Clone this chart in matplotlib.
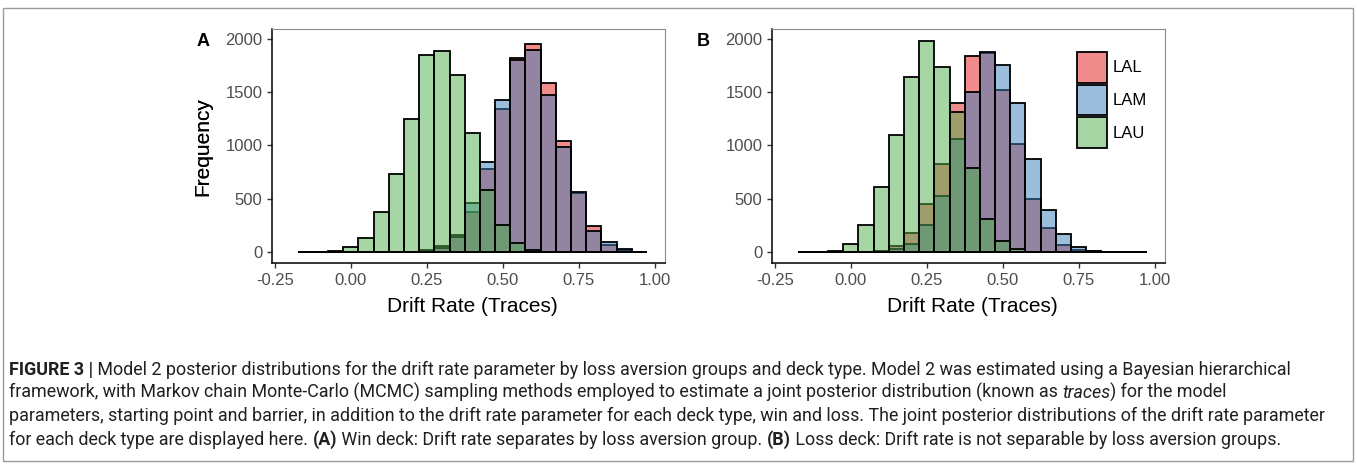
import matplotlib
matplotlib.use('Agg')
import matplotlib.pyplot as plt
from matplotlib import font_manager
from matplotlib.colors import to_rgba
from matplotlib.patches import Patch, Rectangle

plt.rcParams['font.family'] = ['Liberation Sans', 'DejaVu Sans']
plt.rcParams['axes.unicode_minus'] = False

# bin centres (bin width 0.05)
centres = [-0.15, -0.10, -0.05, 0.00, 0.05, 0.10, 0.15, 0.20, 0.25, 0.30, 0.35, 0.40,
           0.45, 0.50, 0.55, 0.60, 0.65, 0.70, 0.75, 0.80, 0.85, 0.90, 0.95]
groups = ['LAL', 'LAM', 'LAU']
colours = ['#E41A1C', '#377EB8', '#4DAF4A']

# panel A - win deck
win_lal = [0, 0, 0, 0, 0, 0, 0, 0, 20, 55, 165, 376, 781, 1339, 1821, 1953, 1583, 1041, 553, 242, 69, 25, 3]
win_lam = [0, 0, 0, 0, 0, 0, 0, 5, 15, 45, 140, 461, 843, 1423, 1802, 1890, 1470, 981, 565, 204, 101, 32, 5]
win_lau = [0, 0, 12, 47, 135, 373, 734, 1245, 1846, 1882, 1655, 1119, 580, 254, 91, 20, 5, 0, 0, 0, 0, 0, 0]

# panel B - loss deck
loss_lal = [0, 0, 0, 0, 0, 10, 56, 179, 455, 831, 1401, 1837, 1862, 1520, 1010, 502, 229, 69, 25, 8, 2, 0, 0]
loss_lam = [0, 0, 0, 0, 0, 8, 35, 79, 251, 530, 1057, 1498, 1871, 1755, 1401, 878, 392, 173, 54, 15, 3, 0, 0]
loss_lau = [0, 3, 15, 78, 260, 615, 1094, 1640, 1981, 1730, 1316, 790, 310, 110, 32, 5, 0, 0, 0, 0, 0, 0, 0]

xticks = [-0.25, 0.00, 0.25, 0.50, 0.75, 1.00]
xticklabels = ['-0.25', '0.00', '0.25', '0.50', '0.75', '1.00']
yticks = [0, 500, 1000, 1500, 2000]

caption = [
    [('FIGURE 3 |', 'bold'),
     (' Model 2 posterior distributions for the drift rate parameter by loss aversion groups and deck type. '
      'Model 2 was estimated using a Bayesian hierarchical', 'normal')],
    [('framework, with Markov chain Monte-Carlo (MCMC) sampling methods employed to estimate a joint '
      'posterior distribution (known as ', 'normal'), ('traces', 'italic'), (') for the model', 'normal')],
    [('parameters, starting point and barrier, in addition to the drift rate parameter for each deck type, '
      'win and loss. The joint posterior distributions of the drift rate parameter', 'normal')],
    [('for each deck type are displayed here. ', 'normal'), ('(A)', 'bold'),
     (' Win deck: Drift rate separates by loss aversion group. ', 'normal'), ('(B)', 'bold'),
     (' Loss deck: Drift rate is not separable by loss aversion groups.', 'normal')],
]

W, H = 1357, 465
fig = plt.figure(figsize=(W / 100, H / 100), dpi=100)


def px_axes(l, t, r, b):
    return fig.add_axes([l / W, 1 - b / H, (r - l) / W, (b - t) / H])


def draw_panel(ax, series, letter, legend=False):
    for vals, col, name in zip(series, colours, groups):
        ax.bar(centres, vals, width=0.05, facecolor=to_rgba(col, 0.5),
               edgecolor='black', linewidth=1.3, label=name)
    ax.set_xlim(-0.259, 1.034)
    ax.set_ylim(-100, 2090)
    ax.set_xticks(xticks)
    ax.set_xticklabels(xticklabels)
    ax.set_yticks(yticks)
    ax.tick_params(labelsize=12, labelcolor='#4d4d4d', color='#333333', length=3.5, width=1, pad=3.5)
    for s in ['left', 'bottom']:
        ax.spines[s].set_color('black')
        ax.spines[s].set_linewidth(1.1)
    for s in ['top', 'right']:
        ax.spines[s].set_color('#8a8a8a')
        ax.spines[s].set_linewidth(0.8)
    bb = ax.get_position()
    l = bb.x0 * W
    ax.text((203 - l) / (bb.width * W), 0.496, 'Frequency', transform=ax.transAxes,
            rotation=90, ha='center', va='center', fontsize=15)
    ax.text(0.51, (263 - 306) / (bb.height * H), 'Drift Rate (Traces)', transform=ax.transAxes,
            ha='center', va='center', fontsize=15)
    fig.text((l - 69) / W, 1 - 46.5 / H, letter, ha='center', va='baseline',
             fontsize=13, fontweight='bold')
    if legend:
        handles = [Patch(facecolor=to_rgba(c, 0.5), edgecolor='black', linewidth=1.3, label=g)
                   for c, g in zip(colours, groups)]
        ax.legend(handles=handles, loc='upper left', bbox_to_anchor=(1077 / W, 1 - 52 / H),
                  bbox_transform=fig.transFigure, frameon=False, fontsize=12,
                  handlelength=1.8, handleheight=2.45, labelspacing=0.12,
                  handletextpad=0.36, borderpad=0, borderaxespad=0)


axA = px_axes(272, 29, 665, 263)
axB = px_axes(772, 29, 1165, 263)
draw_panel(axA, [win_lal, win_lam, win_lau], 'A')
draw_panel(axB, [loss_lal, loss_lam, loss_lau], 'B', legend=True)

# outer frame
fig.patches.append(Rectangle((3 / W, 1 - 461 / H), 1350 / W, 453 / H, transform=fig.transFigure,
                             fill=False, edgecolor='#9a9a9a', linewidth=1))

# caption, set run by run
names = {f.name for f in font_manager.fontManager.ttflist}
cap_font = 'Liberation Sans Narrow' if 'Liberation Sans Narrow' in names else 'Roboto'
renderer = fig.canvas.get_renderer()


def style_kw(style):
    if style == 'bold':
        return dict(fontweight='bold')
    if style == 'italic':
        return dict(fontstyle='italic')
    return {}


def run_width(s, style, size):
    t1 = fig.text(0, 0, '|' + s + '|', fontsize=size, family=cap_font, **style_kw(style))
    t2 = fig.text(0, 0, '||', fontsize=size, family=cap_font, **style_kw(style))
    w = t1.get_window_extent(renderer).width - t2.get_window_extent(renderer).width
    t1.remove()
    t2.remove()
    return w


w10 = sum(run_width(s, st, 10) for s, st in caption[0])
cap_size = 10 * 1289 / w10

for i, line in enumerate(caption):
    x = 9
    y = 375 + 23.2 * i
    for s, st in line:
        fig.text(x / W, 1 - y / H, s, fontsize=cap_size, family=cap_font, color='#231f20',
                 ha='left', va='baseline', **style_kw(st))
        x += run_width(s, st, cap_size)

fig.savefig('out.png', dpi=100)
